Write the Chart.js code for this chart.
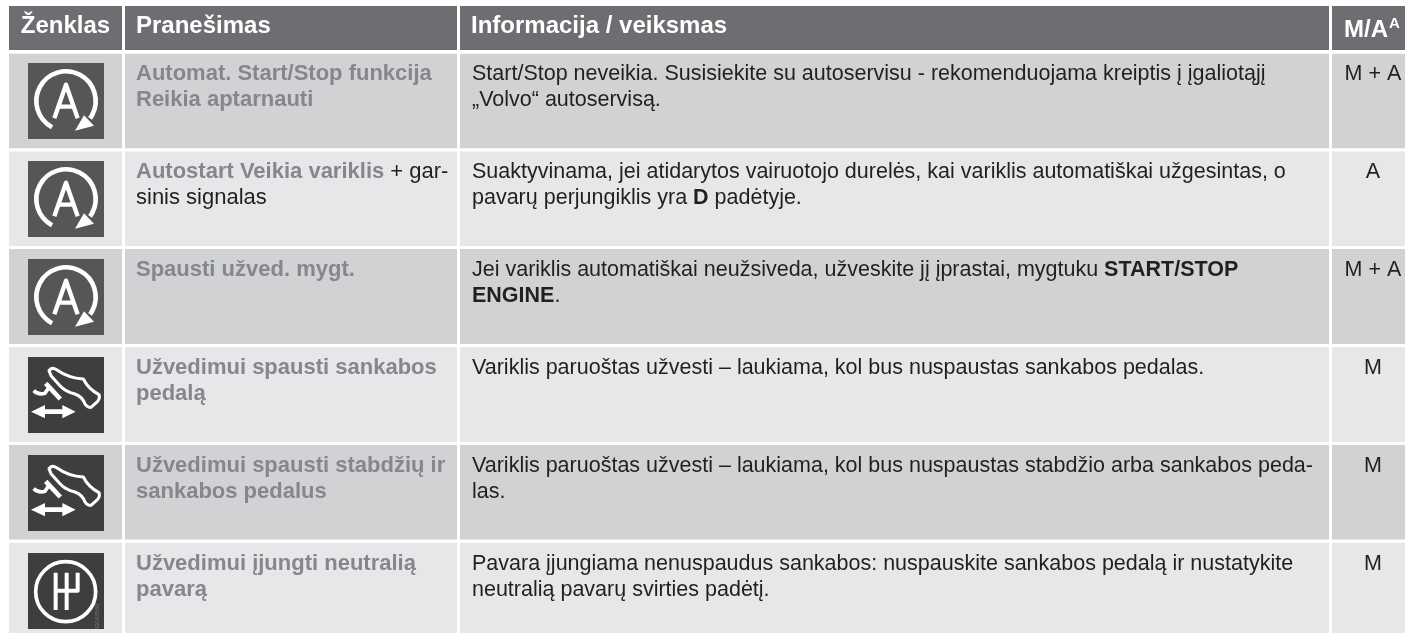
<!DOCTYPE html>
<html lang="lt">
<head>
<meta charset="utf-8">
<title>Ženklas</title>
<script src="https://cdn.jsdelivr.net/npm/chart.js@4/dist/chart.umd.js"></script>
<style>
html, body { margin: 0; padding: 0; background: #fff; width: 1405px; height: 633px; overflow: hidden; }
canvas { position: absolute; left: 9px; }
#head { top: 6px; }
#body { top: 52px; }
</style>
</head>
<body>
<canvas id="head" width="1408" height="44"></canvas>
<canvas id="body" width="1408" height="587"></canvas>
<script>
var columnHeaders = ['Ženklas', 'Pranešimas', 'Informacija / veiksmas', 'M/A'];
var columnWidths = [116, 335, 872, 85];
var rowIds = ['r1', 'r2', 'r3', 'r4', 'r5', 'r6'];
var icons = ['auto', 'auto', 'auto', 'pedal', 'pedal', 'gear'];
// *...* marks a bold run
var messages = [
	['*Automat. Start/Stop funkcija*', '*Reikia aptarnauti*'],
	['*Autostart Veikia variklis* + gar-', 'sinis signalas'],
	['*Spausti užved. mygt.*'],
	['*Užvedimui spausti sankabos*', '*pedalą*'],
	['*Užvedimui spausti stabdžių ir*', '*sankabos pedalus*'],
	['*Užvedimui įjungti neutralią*', '*pavarą*']
];
var actions = [
	['Start/Stop neveikia. Susisiekite su autoservisu - rekomenduojama kreiptis į įgaliotąjį', '„Volvo“ autoservisą.'],
	['Suaktyvinama, jei atidarytos vairuotojo durelės, kai variklis automatiškai užgesintas, o', 'pavarų perjungiklis yra *D* padėtyje.'],
	['Jei variklis automatiškai neužsiveda, užveskite jį įprastai, mygtuku *START/STOP*', '*ENGINE*.'],
	['Variklis paruoštas užvesti – laukiama, kol bus nuspaustas sankabos pedalas.'],
	['Variklis paruoštas užvesti – laukiama, kol bus nuspaustas stabdžio arba sankabos peda-', 'las.'],
	['Pavara įjungiama nenuspaudus sankabos: nuspauskite sankabos pedalą ir nustatykite', 'neutralią pavarų svirties padėtį.']
];
var modes = ['M + A', 'A', 'M + A', 'M', 'M', 'M'];

var FONT = '"Liberation Sans", Arial, sans-serif';
var INK = '#231f20';
var GREY = '#85878a';
var totalWidth = columnWidths.reduce(function(a, b) { return a + b; }, 0);

function drawRuns(ctx, line, x, y, size, boldColor, plainColor) {
	line.split('*').forEach(function(run, i) {
		if (!run) return;
		ctx.font = (i % 2 ? 'bold ' : '') + size + 'px ' + FONT;
		ctx.fillStyle = i % 2 ? boldColor : plainColor;
		ctx.fillText(run, x, y);
		x += ctx.measureText(run).width;
	});
}

function centered(ctx, text, cx, y, font, color) {
	ctx.font = font;
	ctx.fillStyle = color;
	ctx.textAlign = 'center';
	ctx.fillText(text, cx, y);
	ctx.textAlign = 'left';
}

// icon paths are in 3x units of the 82px crop round the 76px square
function drawIcon(ctx, kind, x, y) {
	ctx.save();
	ctx.fillStyle = kind === 'auto' ? '#545658' : '#3e3e40';
	ctx.fillRect(x, y, 76, 76);
	ctx.translate(x - 3, y - 3);
	ctx.scale(1 / 3, 1 / 3);
	ctx.strokeStyle = '#fff';
	ctx.fillStyle = '#fff';
	ctx.lineJoin = 'round';
	if (kind === 'auto') {
		ctx.lineWidth = 14;
		ctx.beginPath();
		ctx.arc(123, 123, 89, 118 * Math.PI / 180, (360 + 36) * Math.PI / 180);
		ctx.stroke();
		ctx.beginPath();
		ctx.lineWidth = 13;
		ctx.moveTo(88, 175);
		ctx.lineTo(123, 74);
		ctx.lineTo(158, 175);
		ctx.moveTo(99, 140);
		ctx.lineTo(147, 140);
		ctx.stroke();
		ctx.beginPath();
		ctx.moveTo(150, 212);
		ctx.lineTo(177, 166);
		ctx.lineTo(207, 197);
		ctx.closePath();
		ctx.fill();
	} else if (kind === 'pedal') {
		ctx.lineWidth = 9;
		ctx.beginPath();
		ctx.moveTo(72, 50);
		ctx.quadraticCurveTo(80, 38, 95, 47);
		ctx.quadraticCurveTo(130, 72, 175, 75);
		ctx.quadraticCurveTo(190, 105, 222, 122);
		ctx.quadraticCurveTo(226, 132, 218, 142);
		ctx.lineTo(198, 160);
		ctx.quadraticCurveTo(188, 162, 180, 150);
		ctx.quadraticCurveTo(172, 128, 150, 120);
		ctx.quadraticCurveTo(120, 112, 105, 95);
		ctx.lineTo(78, 65);
		ctx.closePath();
		ctx.stroke();
		ctx.lineWidth = 14;
		ctx.beginPath();
		ctx.moveTo(62, 88);
		ctx.lineTo(106, 135);
		ctx.stroke();
		ctx.lineWidth = 11;
		ctx.beginPath();
		ctx.moveTo(26, 110);
		ctx.quadraticCurveTo(40, 124, 60, 118);
		ctx.lineTo(72, 100);
		ctx.stroke();
		ctx.beginPath();
		ctx.moveTo(18, 173);
		ctx.lineTo(60, 153);
		ctx.lineTo(60, 166);
		ctx.lineTo(112, 166);
		ctx.lineTo(112, 153);
		ctx.lineTo(152, 173);
		ctx.lineTo(112, 193);
		ctx.lineTo(112, 180);
		ctx.lineTo(60, 180);
		ctx.lineTo(60, 193);
		ctx.closePath();
		ctx.fill();
	} else {
		ctx.lineWidth = 11;
		ctx.beginPath();
		ctx.arc(122, 125, 90, 0, Math.PI * 2);
		ctx.stroke();
		ctx.lineWidth = 12;
		ctx.beginPath();
		ctx.moveTo(92, 68);
		ctx.lineTo(92, 180);
		ctx.moveTo(125, 68);
		ctx.lineTo(125, 180);
		ctx.moveTo(158, 68);
		ctx.lineTo(158, 122);
		ctx.lineTo(92, 122);
		ctx.stroke();
		ctx.translate(222, 235);
		ctx.rotate(-Math.PI / 2);
		ctx.font = '18px ' + FONT;
		ctx.fillStyle = '#77787b';
		ctx.fillText('G043560', 0, 0);
	}
	ctx.restore();
}

var headerText = {
	id: 'headerText',
	afterDatasetsDraw: function(chart) {
		var ctx = chart.ctx;
		ctx.save();
		var font = 'bold 24px ' + FONT;
		columnHeaders.forEach(function(title, c) {
			var cell = chart.getDatasetMeta(c).data[0];
			if (c === 0) {
				centered(ctx, title, (cell.base + cell.x - 3) / 2, 27, font, '#fff');
			} else if (c === 3) {
				ctx.font = font;
				ctx.fillStyle = '#fff';
				ctx.fillText(title, cell.base + 12, 30.5);
				var w = ctx.measureText(title).width;
				ctx.font = 'bold 15px ' + FONT;
				ctx.fillText('A', cell.base + 13 + w, 22);
			} else {
				drawRuns(ctx, '*' + title + '*', cell.base + 11, 27, 24, '#fff', '#fff');
			}
		});
		ctx.restore();
	}
};

var bodyText = {
	id: 'bodyText',
	afterDatasetsDraw: function(chart) {
		var ctx = chart.ctx;
		ctx.save();
		rowIds.forEach(function(id, r) {
			var first = chart.getDatasetMeta(0).data[r];
			var top = first.y - first.height / 2;
			drawIcon(ctx, icons[r], Math.round(first.base + 19), Math.round(top + 10));
			var msgCell = chart.getDatasetMeta(1).data[r];
			messages[r].forEach(function(line, l) {
				drawRuns(ctx, line, msgCell.base + 11, top + 27 + l * 26, 22, GREY, INK);
			});
			var infoCell = chart.getDatasetMeta(2).data[r];
			actions[r].forEach(function(line, l) {
				drawRuns(ctx, line, infoCell.base + 12, top + 27 + l * 26, 21.5, INK, INK);
			});
			var modeCell = chart.getDatasetMeta(3).data[r];
			centered(ctx, modes[r], (modeCell.base + modeCell.x - 3) / 2, top + 27, '21.5px ' + FONT, INK);
		});
		ctx.restore();
	}
};

function makeTable(id, labels, colors, thickness, plugin) {
	return new Chart(document.getElementById(id), {
		type: 'bar',
		data: {
			labels: labels,
			datasets: columnWidths.map(function(w) {
				return {
					data: labels.map(function() { return w; }),
					backgroundColor: colors,
					borderColor: '#fff',
					borderWidth: { top: 0, right: 3, bottom: 0, left: 0 },
					borderSkipped: false,
					inflateAmount: 0,
					categoryPercentage: 1,
					barPercentage: thickness
				};
			})
		},
		options: {
			indexAxis: 'y',
			responsive: false,
			animation: false,
			layout: { padding: 0 },
			plugins: { legend: { display: false }, tooltip: { enabled: false } },
			scales: {
				x: { stacked: true, display: false, min: 0, max: totalWidth },
				y: { stacked: true, display: false }
			}
		},
		plugins: [plugin]
	});
}

makeTable('head', ['header'], ['#6d6e71'], 1, headerText);
makeTable('body', rowIds, ['#d1d2d4', '#e6e7e8', '#d1d2d4', '#e6e7e8', '#d1d2d4', '#e6e7e8'], 95 / 97.83, bodyText);
</script>
</body>
</html>
